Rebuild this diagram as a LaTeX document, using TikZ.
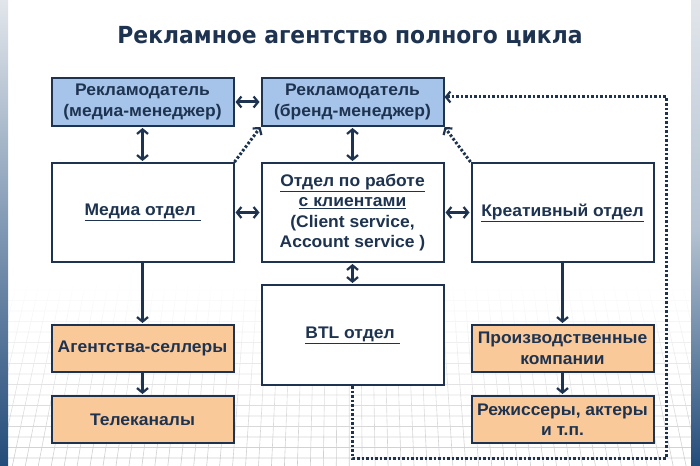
\documentclass[tikz,border=0pt]{standalone}
\usepackage{fontspec}
\setmainfont{Liberation Sans}[FakeStretch=1.04]
\newfontfamily\titlefont[FakeStretch=0.93]{DejaVu Sans}
\usetikzlibrary{arrows.meta,fadings}
\definecolor{navy}{HTML}{1E3350}
\definecolor{bluefill}{HTML}{A6C4EA}
\definecolor{orangefill}{HTML}{FAC99A}
\definecolor{stripA}{HTML}{E2E6EB}
\definecolor{stripB}{HTML}{7F97B3}
\definecolor{stripC}{HTML}{244C7A}
\tikzset{
  box/.style={draw=navy, line width=2pt, minimum width=182pt, text=navy,
    font=\fontsize{16.8}{20.5}\selectfont\bfseries, align=center, inner sep=2pt},
  topbox/.style={box, fill=bluefill, minimum height=48pt},
  dept/.style={box, fill=white, minimum height=99pt},
  ext/.style={box, fill=orangefill, minimum height=47pt},
  conn/.style={draw=navy, line width=3pt},
  both/.style={conn, {Straight Barb[length=4.5pt,width=11pt,line width=2.2pt]}-{Straight Barb[length=4.5pt,width=11pt,line width=2.2pt]}, shorten <=1pt, shorten >=1pt},
  one/.style={conn, -{Straight Barb[length=4.5pt,width=11pt,line width=2.2pt]}, shorten >=1pt},
  dots/.style={draw=navy, line width=3pt, dash pattern=on 2.5pt off 2pt}
}
\begin{document}
\begin{tikzpicture}[x=1pt,y=-1pt]
\useasboundingbox (0,0) rectangle (700,465);
\fill[white] (0,0) rectangle (700,465);
% background grid (perspective floor)
\begin{scope}
\clip (0,0) rectangle (700,465);
\draw[gray!40, line width=0.6pt, path fading=north]
  \foreach \i in {-40,...,40} { ({350+\i*13},470) -- ({350+\i*11.5},285) }
  \foreach \j in {0,...,17} { (0,{290+\j*10.5}) -- (700,{290+\j*10.5}) };
\end{scope}
% side strips
\shade[top color=stripA, bottom color=stripC, middle color=stripB] (0,0) rectangle (8,465);
\shade[top color=stripA, bottom color=stripC, middle color=stripB!60!white] (691,0) rectangle (700,465);
% title
\node[text=navy, font=\titlefont\fontsize{23.5}{27}\selectfont\bfseries] (title) at (350,37) {Рекламное агентство полного цикла};
% boxes
\node[topbox] (media) at (142.5,102) {Рекламодатель\\(медиа-менеджер)};
\node[topbox] (brand) at (352.5,102) {Рекламодатель\\(бренд-менеджер)};
\node[dept] (mdept) at (142.5,212.5) {\underline{Медиа отдел\ }};
\node[dept] (client) at (352.5,212.5) {\underline{Отдел по работе}\\\underline{с клиентами}\\(Client service,\\Account service )};
\node[dept] (creative) at (562.5,212.5) {\underline{Креативный отдел}};
\node[box, fill=white, minimum height=100pt] (btl) at (352.5,335) {\underline{BTL отдел\ }};
\node[ext] (sellers) at (142.5,348.5) {Агентства-селлеры};
\node[ext] (tv) at (142.5,419.5) {Телеканалы};
\node[ext] (prod) at (562.5,348.5) {Производственные\\компании};
\node[ext] (dir) at (562.5,419.5) {Режиссеры, актеры\\и т.п.};
% solid connectors
\draw[both] (media.east) -- (brand.west);
\draw[both] (media.south) -- (mdept.north);
\draw[both] (brand.south) -- (client.north);
\draw[both] (mdept.east) -- (client.west);
\draw[both] (client.east) -- (creative.west);
\draw[both] (client.south) -- (btl.north);
\draw[one] (mdept.south) -- (sellers.north);
\draw[one] (sellers.south) -- (tv.north);
\draw[one] (creative.south) -- (prod.north);
\draw[one] (prod.south) -- (dir.north);
% dotted connectors
\coordinate (d1) at (352.5,458);
\coordinate (d2) at (666,458);
\coordinate (d3) at (666,97);
\draw[dots, -{Straight Barb[length=4.5pt,width=11pt,line width=2.2pt]}] (btl.south) -- (d1) -- (d2) -- (d3) -- ([yshift=5pt]brand.east);
\draw[dots, -{Straight Barb[length=4.5pt,width=11pt,line width=2.2pt]}] (mdept.north east) -- (brand.south west);
\draw[dots, -{Straight Barb[length=4.5pt,width=11pt,line width=2.2pt]}] (creative.north west) -- (brand.south east);
\end{tikzpicture}
\end{document}
